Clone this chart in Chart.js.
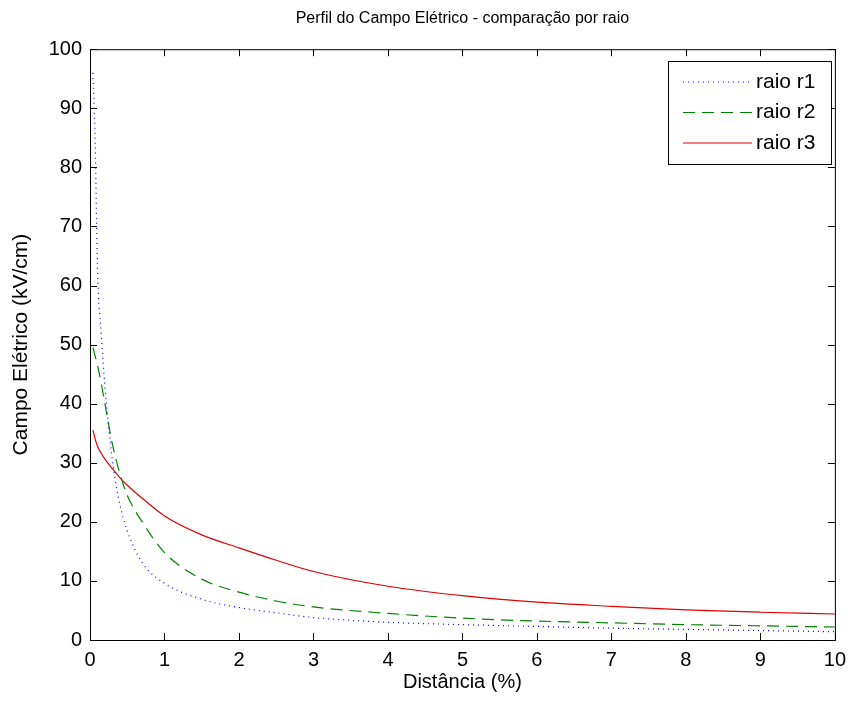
<!DOCTYPE html>
<html>
<head>
<meta charset="utf-8">
<script src="https://cdn.jsdelivr.net/npm/chart.js@4.4.0/dist/chart.umd.min.js"></script>
<style>
  body { margin: 0; background: #fff; }
  #myChart { display: block; }
</style>
</head>
<body>
<canvas id="myChart" width="854" height="702"></canvas>
<script>
// values
const distancia = [0.04, 0.07, 0.1, 0.15, 0.2, 0.3, 0.4, 0.5, 0.7, 1, 1.5, 2, 2.5, 3, 4, 5, 6, 7, 8, 9, 10];
const raioR1 = [96, 84, 63, 52, 43, 30.5, 23, 18.5, 13.1, 9.6, 6.9, 5.5, 4.6, 3.8, 3.0, 2.6, 2.3, 2.0, 1.8, 1.6, 1.4];
const raioR2 = [49.5, 48, 46.5, 43.5, 40, 33.2, 28.2, 24.5, 20, 14.8, 10.3, 8.1, 6.6, 5.6, 4.5, 3.7, 3.2, 2.9, 2.6, 2.4, 2.2];
const raioR3 = [35.5, 34, 32.8, 31.6, 30.6, 29, 27.5, 26.2, 24, 21, 17.8, 15.6, 13.5, 11.6, 9.1, 7.5, 6.4, 5.7, 5.1, 4.7, 4.4];

const xTickValues = [0, 1, 2, 3, 4, 5, 6, 7, 8, 9, 10];
const yTickValues = [0, 10, 20, 30, 40, 50, 60, 70, 80, 90, 100];

const FONT = "'Liberation Sans', Arial, Helvetica, sans-serif";

function toPoints(ys) {
  return distancia.map((x, i) => ({ x: x, y: ys[i] }));
}

// box around the axes with inward ticks (matlab style)
const boxPlugin = {
  id: "box",
  afterDraw(chart) {
    const { ctx, chartArea: a, scales } = chart;
    const tl = 7;
    ctx.save();
    ctx.strokeStyle = "#000";
    ctx.lineWidth = 1;
    ctx.strokeRect(a.left + 0.5, a.top + 0.5, a.right - a.left, a.bottom - a.top);
    ctx.beginPath();
    xTickValues.forEach((v) => {
      const px = Math.round(scales.x.getPixelForValue(v)) + 0.5;
      ctx.moveTo(px, a.bottom);
      ctx.lineTo(px, a.bottom - tl);
      ctx.moveTo(px, a.top);
      ctx.lineTo(px, a.top + tl);
    });
    yTickValues.forEach((v) => {
      const py = Math.round(scales.y.getPixelForValue(v)) + 0.5;
      ctx.moveTo(a.left, py);
      ctx.lineTo(a.left + tl, py);
      ctx.moveTo(a.right, py);
      ctx.lineTo(a.right - tl, py);
    });
    ctx.stroke();

    // legend box, top right inside the axes
    const lx = 668, ly = 61, lw = 163, lh = 103;
    ctx.fillStyle = "#fff";
    ctx.fillRect(lx, ly, lw, lh);
    ctx.strokeRect(lx + 0.5, ly + 0.5, lw, lh);
    ctx.font = "21px " + FONT;
    ctx.textBaseline = "middle";
    ctx.textAlign = "left";
    chart.data.datasets.forEach((ds, i) => {
      const y = ly + 21 + i * 30.5;
      ctx.beginPath();
      ctx.strokeStyle = ds.borderColor;
      ctx.setLineDash(ds.borderDash || []);
      ctx.moveTo(683, y);
      ctx.lineTo(752, y);
      ctx.stroke();
      ctx.setLineDash([]);
      ctx.fillStyle = "#000";
      ctx.fillText(ds.label, 756, y);
    });
    ctx.restore();
  },
};

const ctx = document.getElementById("myChart").getContext("2d");

const myChart = new Chart(ctx, {
  type: "line",
  data: {
    datasets: [
      {
        label: "raio r1",
        data: toPoints(raioR1),
        borderColor: "#0000ff",
        borderDash: [1, 4],
      },
      {
        label: "raio r2",
        data: toPoints(raioR2),
        borderColor: "#008000",
        borderDash: [12, 7],
      },
      {
        label: "raio r3",
        data: toPoints(raioR3),
        borderColor: "#e00000",
      },
    ],
  },
  options: {
    responsive: false,
    animation: false,
    layout: { padding: { left: 0, right: 13, top: 0, bottom: 0 } },
    elements: {
      point: { radius: 0 },
      line: { borderWidth: 1.2, cubicInterpolationMode: "monotone" },
    },
    plugins: {
      legend: { display: false },
      tooltip: { enabled: false },
      title: {
        display: true,
        fullSize: false,
        text: "Perfil do Campo Elétrico - comparação por raio",
        color: "#000",
        font: { family: FONT, size: 16, weight: "normal" },
        padding: { top: 9, bottom: 21 },
      },
    },
    scales: {
      x: {
        type: "linear",
        min: 0,
        max: 10,
        afterBuildTicks: (s) => { s.ticks = xTickValues.map((v) => ({ value: v })); },
        afterFit: (s) => { s.height = 62; },
        grid: { display: false, drawTicks: false },
        border: { display: false },
        ticks: { color: "#000", padding: 8, maxRotation: 0, font: { family: FONT, size: 20 } },
        title: {
          display: true,
          text: "Distância (%)",
          color: "#000",
          font: { family: FONT, size: 20 },
          padding: { top: 0, bottom: 8 },
        },
      },
      y: {
        type: "linear",
        min: 0,
        max: 100,
        afterBuildTicks: (s) => { s.ticks = yTickValues.map((v) => ({ value: v })); },
        afterFit: (s) => { s.width = 90; },
        grid: { display: false, drawTicks: false },
        border: { display: false },
        ticks: { color: "#000", padding: 8, font: { family: FONT, size: 20 } },
        title: {
          display: true,
          text: "Campo Elétrico (kV/cm)",
          color: "#000",
          font: { family: FONT, size: 21 },
          padding: { top: 9, bottom: 0 },
        },
      },
    },
  },
  plugins: [boxPlugin],
});
</script>
</body>
</html>
